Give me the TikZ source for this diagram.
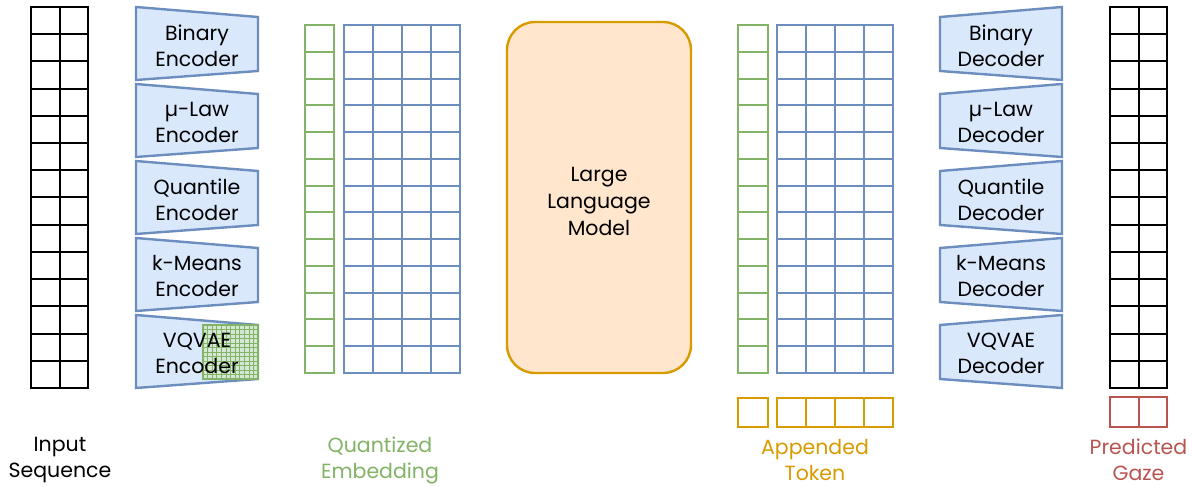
\documentclass[tikz,border=0pt]{standalone}
\usepackage{fontspec}
\setmainfont{Poppins}
\definecolor{bfill}{HTML}{DAE8FC}
\definecolor{bdraw}{HTML}{6C8EBF}
\definecolor{gdraw}{HTML}{82B366}
\definecolor{gfill}{HTML}{D5E8D4}
\definecolor{ofill}{HTML}{FFE6CC}
\definecolor{odraw}{HTML}{D79B00}
\definecolor{rdraw}{HTML}{B85450}
\tikzset{
  txt/.style={align=center, font=\fontsize{20.5}{26}\selectfont, inner sep=0pt},
  coder/.style={draw=bdraw, fill=bfill, line width=2.4pt, line join=miter},
  blkgrid/.style={draw=black, line width=2pt},
  blugrid/.style={draw=bdraw, line width=2pt},
  grngrid/.style={draw=gdraw, line width=2pt},
  orggrid/.style={draw=odraw, line width=2pt},
  redgrid/.style={draw=rdraw, line width=2pt},
}
\begin{document}
\begin{tikzpicture}[x=1pt,y=-1pt]
\useasboundingbox (0,0) rectangle (1192,487);
% input sequence grid
\foreach \i in {0,...,13} {
  \draw[blkgrid] (31,{7+\i*27.214}) rectangle (59.5,{7+(\i+1)*27.214});
  \draw[blkgrid] (59.5,{7+\i*27.214}) rectangle (88,{7+(\i+1)*27.214});
}
% predicted gaze grid (right)
\foreach \i in {0,...,13} {
  \draw[blkgrid] (1110,{7+\i*27.214}) rectangle (1138.5,{7+(\i+1)*27.214});
  \draw[blkgrid] (1138.5,{7+\i*27.214}) rectangle (1167,{7+(\i+1)*27.214});
}
\draw[redgrid] (1110,397) rectangle (1138.5,427);
\draw[redgrid] (1138.5,397) rectangle (1167,427);
% encoders
\foreach \k in {0,...,4} {
  \draw[coder] (136,{7+77*\k}) -- (258,{17+77*\k}) -- (258,{71+77*\k}) -- (136,{80+77*\k}) -- cycle;
}
% decoders
\foreach \k in {0,...,4} {
  \draw[coder] (1062,{7+77*\k}) -- (940,{17+77*\k}) -- (940,{71+77*\k}) -- (1062,{80+77*\k}) -- cycle;
}
% VQVAE codebook patch
\fill[gfill] (203,325) rectangle (258,379);
\foreach \j in {1,...,11} {
  \draw[gdraw, line width=0.6pt] ({203+\j*55/12},325) -- ({203+\j*55/12},379);
  \draw[gdraw, line width=0.6pt] (203,{325+\j*54/12}) -- (258,{325+\j*54/12});
}
\draw[gdraw, line width=2pt] (203,325) rectangle (258,379);
% encoder / decoder labels
\node[txt] (tencb) at (197,45.5) {Binary\\Encoder};
\node[txt] (tencm) at (197,122.5) {\textmu-Law\\Encoder};
\node[txt] (tencq) at (197,199.5) {Quantile\\Encoder};
\node[txt] (tenck) at (197,276.5) {k-Means\\Encoder};
\node[txt] (tencv) at (197,353.5) {VQVAE\\Encoder};
\node[txt] (tdecb) at (1001,45.5) {Binary\\Decoder};
\node[txt] (tdecm) at (1001,122.5) {\textmu-Law\\Decoder};
\node[txt] (tdecq) at (1001,199.5) {Quantile\\Decoder};
\node[txt] (tdeck) at (1001,276.5) {k-Means\\Decoder};
\node[txt] (tdecv) at (1001,353.5) {VQVAE\\Decoder};
% quantized embedding grids
\foreach \i in {0,...,12} {
  \draw[grngrid] (305,{25+\i*26.77}) rectangle (334,{25+(\i+1)*26.77});
  \foreach \c in {0,...,3} {
    \draw[blugrid] ({344+\c*29},{25+\i*26.77}) rectangle ({344+(\c+1)*29},{25+(\i+1)*26.77});
  }
}
% appended side grids
\foreach \i in {0,...,12} {
  \draw[grngrid] (738,{25+\i*26.77}) rectangle (768,{25+(\i+1)*26.77});
  \foreach \c in {0,...,3} {
    \draw[blugrid] ({777+\c*29},{25+\i*26.77}) rectangle ({777+(\c+1)*29},{25+(\i+1)*26.77});
  }
}
\draw[orggrid] (738,398) rectangle (768,427);
\foreach \c in {0,...,3} {
  \draw[orggrid] ({777+\c*29},398) rectangle ({777+(\c+1)*29},427);
}
% LLM
\node[draw=odraw, fill=ofill, line width=2.4pt, rounded corners=28pt,
  minimum width=184pt, minimum height=351pt, inner sep=0pt] (llm) at (599,197.5) {};
\node[txt, font=\fontsize{20.5}{27}\selectfont] (llmtxt) at (599,201) {Large\\Language\\Model};
% bottom labels
\node[txt] (lin) at (60,460) {Input\\Sequence};
\node[txt, text=gdraw] (lq) at (380,460) {Quantized\\Embedding};
\node[txt, text=odraw] (la) at (815,460) {Appended\\Token};
\node[txt, text=rdraw] (lp) at (1138.5,460) {Predicted\\Gaze};
\end{tikzpicture}
\end{document}
